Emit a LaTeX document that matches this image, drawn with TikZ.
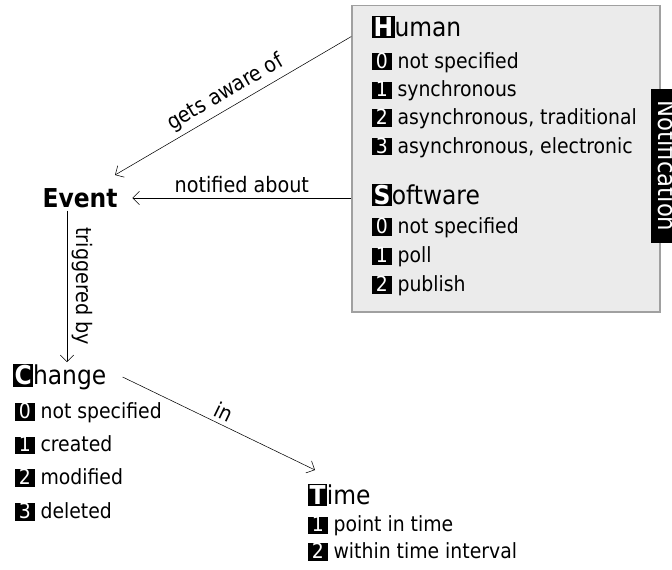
\documentclass[tikz,border=0pt]{standalone}
\usepackage{fontspec}
\setmainfont{DejaVu Sans Condensed}
\usetikzlibrary{arrows.meta}
\definecolor{boxgray}{HTML}{EBEBEB}
\definecolor{boxline}{HTML}{A0A0A0}
\newcommand{\nbox}[1]{{\setlength{\fboxsep}{0pt}\colorbox{black}{\rule[-1.6pt]{0pt}{12.8pt}\makebox[14.5pt]{\textcolor{white}{#1}}}}}
\newcommand{\initial}[1]{{\setlength{\fboxsep}{1pt}\colorbox{black}{\rule[-0.6pt]{0pt}{13.6pt}\textcolor{white}{\bfseries #1}}}}
\tikzset{
    item/.style={anchor=west, inner sep=0pt, font=\fontsize{15.7}{19}\selectfont},
    head/.style={anchor=west, inner sep=0pt, font=\fontsize{19.5}{23}\selectfont},
    arr/.style={-{Straight Barb[length=5pt,width=10pt]}},
    lbl/.style={font=\fontsize{16}{19}\selectfont, midway, sloped, above},
}

\begin{document}
\begin{tikzpicture}[x=0.75pt, y=-0.75pt]
        \useasboundingbox (0,0) rectangle (672,569);
        % notification box
        \node[draw=boxline, fill=boxgray, line width=1pt, inner sep=0pt,
            minimum width=231pt, minimum height=230pt] (notif) at (506,158.5) {};
        \node[fill=black, text=white, rotate=-90, anchor=south, inner xsep=9pt, inner ysep=5.25pt,
            font=\fontsize{19}{23}\selectfont] (notiflabel) at (651,166) {Notification};
        \node[head] (human) at (372,27) {\initial{H}uman};
        \node[item] (h0) at (372,62.5) {\nbox{0} not specified};
        \node[item] (h1) at (372,91) {\nbox{1} synchronous};
        \node[item] (h2) at (372,119) {\nbox{2} asynchronous, traditional};
        \node[item] (h3) at (372,147.5) {\nbox{3} asynchronous, electronic};
        \node[head] (software) at (372,195) {\initial{S}oftware};
        \node[item] (s0) at (372,228) {\nbox{0} not specified};
        \node[item] (s1) at (372,257) {\nbox{1} poll};
        \node[item] (s2) at (372,286) {\nbox{2} publish};
        % event
        \node[font=\fontsize{19.5}{23}\selectfont\bfseries, inner sep=2pt] (event) at (80,198) {Event};
        % change
        \node[head] (change) at (13,377) {\initial{C}hange};
        \node[item] (c0) at (15,413) {\nbox{0} not specified};
        \node[item] (c1) at (15,445) {\nbox{1} created};
        \node[item] (c2) at (15,478) {\nbox{2} modified};
        \node[item] (c3) at (15,512) {\nbox{3} deleted};
        % time
        \node[head] (time) at (308,495) {\initial{T}ime};
        \node[item] (t1) at (308,526) {\nbox{1} point in time};
        \node[item] (t2) at (308,552) {\nbox{2} within time interval};
        % connectors
        \coordinate (awaretip) at (115,175);
        \coordinate (trigtip) at (67,362);
        \coordinate (intip) at (315,470);
        \draw[arr] ([yshift=-24pt]notif.north west) -- (awaretip) node[lbl] {gets aware of};
        \draw[arr] (notif.west |- event) -- ([xshift=9pt]event.east) node[lbl] {notified about};
        \draw[arr] (event.south -| trigtip) -- (trigtip) node[lbl] {triggered by};
        \draw[arr] ([xshift=12pt]change.east) -- (intip) node[lbl] {in};
\end{tikzpicture}
\end{document}
